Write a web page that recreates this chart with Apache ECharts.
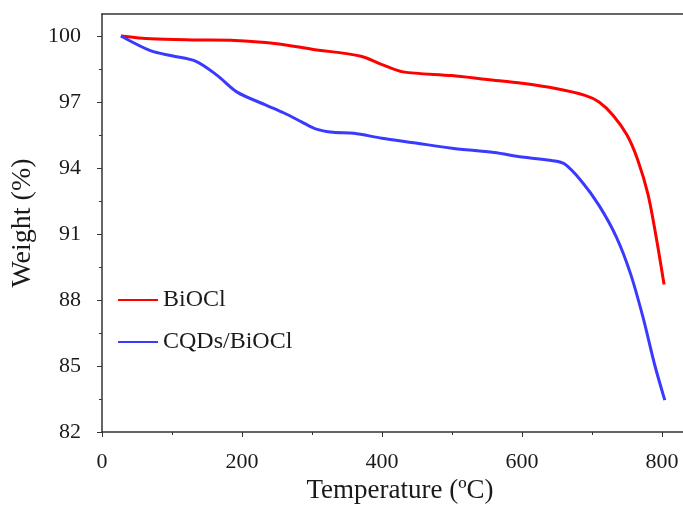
<!DOCTYPE html>
<html>
<head>
<meta charset="utf-8">
<script src="https://cdn.jsdelivr.net/npm/echarts@6/dist/echarts.min.js"></script>
<style>
  html, body { margin: 0; padding: 0; background: #fff; }
  #chart { width: 683px; height: 505px; }
</style>
</head>
<body>
<div id="chart"></div>
<script>
// TGA curves, [temperature ºC, weight %]
const seriesNames = ["BiOCl", "CQDs/BiOCl"];
const bioclData = [
  [27, 100], [70, 99.87], [130, 99.82], [190, 99.8], [250, 99.65], [300, 99.4],
  [370, 99.08], [400, 98.7], [430, 98.37], [500, 98.2], [550, 98.02], [600, 97.85],
  [650, 97.6], [690, 97.3], [710, 97.0], [730, 96.4], [750, 95.5], [765, 94.4],
  [780, 92.8], [792, 90.8], [803, 88.7]
];
const cqdsData = [
  [27, 100], [70, 99.32], [100, 99.1], [135, 98.84], [165, 98.2], [193, 97.45],
  [235, 96.85], [260, 96.5], [285, 96.1], [305, 95.78], [330, 95.62], [360, 95.58],
  [400, 95.35], [445, 95.15], [500, 94.9], [560, 94.7], [600, 94.5], [640, 94.35],
  [660, 94.2], [685, 93.4], [710, 92.3], [735, 90.85], [755, 89.2], [773, 87.2],
  [790, 85.0], [804, 83.45]
];
const yMajorTicks = [82, 85, 88, 91, 94, 97, 100];
const yMinorTicks = [83.5, 86.5, 89.5, 92.5, 95.5, 98.5];

const font = "Liberation Serif";
const ink = "#1a1a1a";
const frame = "#333";

const chart = echarts.init(document.getElementById("chart"));

chart.setOption({
  animation: false,
  textStyle: { fontFamily: font },
  // plot runs past the right edge, like the cropped original
  grid: { left: 102, top: 14, bottom: 73, width: 700, containLabel: false, outerBoundsMode: "none" },
  legend: {
    data: seriesNames,
    orient: "vertical",
    left: 118,
    top: 288,
    padding: 0,
    itemWidth: 40,
    itemHeight: 2,
    itemGap: 18,
    icon: "rect",
    textStyle: { fontFamily: font, fontSize: 24, color: ink }
  },
  xAxis: [
    {
      type: "value",
      min: 0,
      max: 1000,
      interval: 200,
      name: "Temperature (ºC)",
      nameLocation: "middle",
      nameGap: 42,
      // axis middle sits off to the right of the visible part, pull the name back
      nameTextStyle: { fontFamily: font, fontSize: 27, color: ink, padding: [0, 104, 0, 0] },
      axisLine: { lineStyle: { color: frame, width: 1.5 } },
      axisTick: { length: 5, lineStyle: { color: frame } },
      minorTick: { show: true, splitNumber: 2, length: 3, lineStyle: { color: frame } },
      axisLabel: { margin: 19, fontFamily: font, fontSize: 22, color: ink },
      splitLine: { show: false }
    },
    {
      // top frame line
      type: "value",
      position: "top",
      min: 0,
      max: 1000,
      axisLine: { show: true, onZero: false, lineStyle: { color: frame, width: 1.5 } },
      axisTick: { show: false },
      axisLabel: { show: false },
      splitLine: { show: false }
    }
  ],
  yAxis: [
    {
      type: "value",
      min: 82,
      max: 101,
      name: "Weight (%)",
      nameLocation: "middle",
      nameGap: 61,
      nameTextStyle: { fontFamily: font, fontSize: 28, color: ink },
      axisLine: { show: true, lineStyle: { color: frame, width: 1.5 } },
      axisTick: { show: true, length: 5, customValues: yMajorTicks, lineStyle: { color: frame } },
      axisLabel: { margin: 21, customValues: yMajorTicks, fontFamily: font, fontSize: 22, color: ink },
      splitLine: { show: false }
    },
    {
      // minor ticks only
      type: "value",
      position: "left",
      min: 82,
      max: 101,
      axisLine: { show: false },
      axisTick: { show: true, length: 3, customValues: yMinorTicks, lineStyle: { color: frame } },
      axisLabel: { show: false },
      splitLine: { show: false }
    }
  ],
  series: [
    {
      name: seriesNames[0],
      type: "line",
      data: bioclData,
      smooth: 0.3,
      showSymbol: false,
      color: "#ff0000",
      lineStyle: { color: "#ff0000", width: 3 }
    },
    {
      name: seriesNames[1],
      type: "line",
      data: cqdsData,
      smooth: 0.3,
      showSymbol: false,
      color: "#3a3aff",
      lineStyle: { color: "#3a3aff", width: 3 }
    }
  ]
});
</script>
</body>
</html>
